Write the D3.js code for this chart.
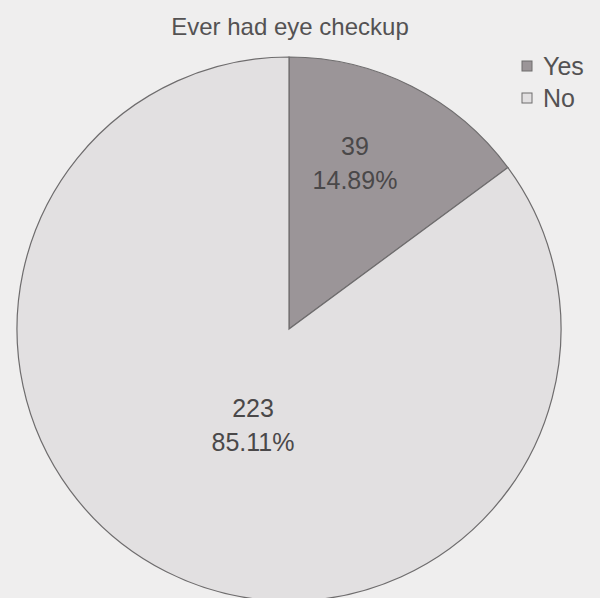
<!DOCTYPE html>
<html>
<head>
<meta charset="utf-8">
<script src="https://cdn.jsdelivr.net/npm/d3@7"></script>
<style>
  body { margin: 0; background: #efeeee; }
  svg { display: block; }
</style>
</head>
<body>
<div id="chart"></div>
<script>
"use strict";

// chart values
const categories = ["Yes", "No"];
const counts = [39, 223];
const percents = ["14.89%", "85.11%"];
const colors = ["#9b9598", "#e2e0e1"];
const title = "Ever had eye checkup";

const msm = {
    width: 600,
    height: 598,
    cx: 289,
    cy: 329,
    radius: 272
}
const fontFamily = "'Liberation Sans', Arial, sans-serif";

let svgContainer = d3.select("#chart")
    .append("svg")
    .attr("width", msm.width)
    .attr("height", msm.height);

// background
svgContainer.append("rect")
    .attr("width", msm.width)
    .attr("height", msm.height)
    .attr("fill", "#efeeee");

let rows = categories.map((c, i) => ({ label: c, count: counts[i], pct: percents[i], color: colors[i] }));

// pie starts at 12 o'clock, clockwise, keep the data order
let pie = d3.pie()
    .value((d) => d.count)
    .sort(null);

let arc = d3.arc()
    .innerRadius(0)
    .outerRadius(msm.radius);

let g = svgContainer.append("g")
    .attr("transform", "translate(" + msm.cx + "," + msm.cy + ")");

let arcs = pie(rows);

g.selectAll("path")
    .data(arcs)
    .enter()
    .append("path")
    .attr("d", arc)
    .attr("fill", (d) => d.data.color)
    .attr("stroke", "#6e6c6d")
    .attr("stroke-width", 1.2);

// label position (baseline of first line): small slice further out, big slice nearer center
function labelPos(d) {
    let small = (d.endAngle - d.startAngle) < Math.PI;
    let r = small ? msm.radius * 0.684 : msm.radius * 0.35;
    let a = (d.startAngle + d.endAngle) / 2 - (small ? 0.105 : 0.08);
    return [r * Math.sin(a), -r * Math.cos(a)];
}

let labels = g.selectAll(".lbl")
    .data(arcs)
    .enter()
    .append("text")
    .attr("class", "lbl")
    .attr("transform", (d) => "translate(" + labelPos(d) + ")")
    .attr("text-anchor", "middle")
    .style("font-family", fontFamily)
    .style("font-size", "25px")
    .attr("fill", "#4a4849");

labels.append("tspan")
    .attr("x", 0)
    .attr("y", 0)
    .text((d) => d.data.count);

labels.append("tspan")
    .attr("x", 0)
    .attr("y", 34)
    .text((d) => d.data.pct);

// title
svgContainer.append("text")
    .attr("x", 290)
    .attr("y", 35)
    .attr("text-anchor", "middle")
    .style("font-family", fontFamily)
    .style("font-size", "24px")
    .attr("fill", "#545253")
    .text(title);

// legend
let legend = svgContainer.selectAll(".legend")
    .data(rows)
    .enter()
    .append("g")
    .attr("class", "legend")
    .attr("transform", (d, i) => "translate(522," + (61 + i * 32) + ")");

legend.append("rect")
    .attr("width", 10)
    .attr("height", 10)
    .attr("fill", (d) => d.color)
    .attr("stroke", "#6e6c6d")
    .attr("stroke-width", 1);

legend.append("text")
    .attr("x", 21)
    .attr("y", 14)
    .style("font-family", fontFamily)
    .style("font-size", "25px")
    .attr("fill", "#545253")
    .text((d) => d.label);
</script>
</body>
</html>
